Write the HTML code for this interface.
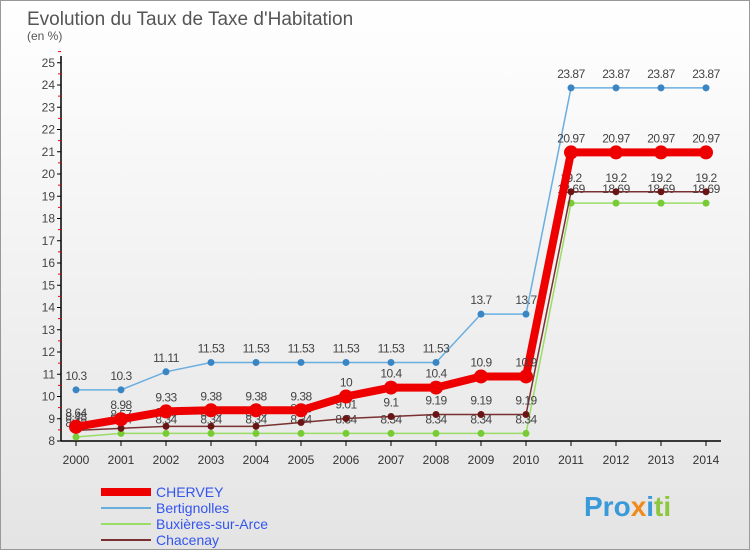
<!DOCTYPE html>
<html><head><meta charset="utf-8"><style>
body{margin:0;width:750px;height:550px;overflow:hidden;font-family:"Liberation Sans",sans-serif}
#wrap{position:relative;width:748px;height:548px;border:1px solid #999;background:linear-gradient(#fff,#e4e4e4)}
</style></head><body>
<div id="wrap">
<svg id="c" width="748" height="548" xmlns="http://www.w3.org/2000/svg">
<text x="26" y="24" font-size="19" fill="#555">Evolution du Taux de Taxe d'Habitation</text>
<text x="26" y="39" font-size="12" fill="#555">(en %)</text>
<g id="axes"></g><g id="series"></g><g id="legend"></g>
<text x="583" y="515" font-size="28" font-weight="bold" fill="#3a9ad9">Pro<tspan fill="#f08a1c">x</tspan><tspan fill="#3a9ad9">i</tspan><tspan fill="#8dc63f">ti</tspan></text>
</svg></div>
<script>
const years=[2000,2001,2002,2003,2004,2005,2006,2007,2008,2009,2010,2011,2012,2013,2014];
const yTicks=[8,9,10,11,12,13,14,15,16,17,18,19,20,21,22,23,24,25];
const chervey=[8.64,8.98,9.33,9.38,9.38,9.38,10,10.4,10.4,10.9,10.9,20.97,20.97,20.97,20.97];
const bertignolles=[10.3,10.3,11.11,11.53,11.53,11.53,11.53,11.53,11.53,13.7,13.7,23.87,23.87,23.87,23.87];
const buxieres=[8.18,8.34,8.34,8.34,8.34,8.34,8.34,8.34,8.34,8.34,8.34,18.69,18.69,18.69,18.69];
const chacenay=[8.48,8.57,8.66,8.66,8.66,8.83,9.01,9.1,9.19,9.19,9.19,19.2,19.2,19.2,19.2];
const NS="http://www.w3.org/2000/svg";
const X=i=>75+i*45, Y=v=>440-(v-8)*22.25;
function mk(t,a,p){const e=document.createElementNS(NS,t);for(const k in a)e.setAttribute(k,a[k]);p.appendChild(e);return e;}
const ax=document.getElementById('axes');
const yl=mk('line',{x1:60,y1:55,x2:60,y2:440,stroke:'#000','stroke-width':1.5},ax);


const xl=mk('line',{x1:60,y1:440,x2:720,y2:440,stroke:'#000','stroke-width':1.5},ax);


yTicks.forEach(v=>{
 mk('line',{x1:56,x2:60,y1:Y(v),y2:Y(v),stroke:'#000'},ax);
 mk('line',{x1:57,x2:60,y1:Y(v+0.5),y2:Y(v+0.5),stroke:'#e00'},ax);
 const t=mk('text',{x:54,y:Y(v)+4,'font-size':12,fill:'#444','text-anchor':'end'},ax);t.textContent=v;
 
 
});
years.forEach((yr,i)=>{
 mk('line',{x1:X(i),x2:X(i),y1:440,y2:445,stroke:'#000'},ax);
 const t=mk('text',{x:X(i),y:463,'font-size':12,fill:'#333','text-anchor':'middle'},ax);t.textContent=yr;
 
 
});
const sg=document.getElementById('series');
const S=[
 {d:bertignolles,c:'#6aaee0',dot:'#3a85c4',w:1.5,r:3.5,n:'bertignolles'},
 {d:buxieres,c:'#99dd66',dot:'#77cc33',w:1.5,r:3.5,n:'buxieres-sur-arce'},
 {d:chacenay,c:'#7a3030',dot:'#6a1515',w:1.5,r:3.5,n:'chacenay'},
 {d:chervey,c:'#ee0000',dot:'#ee0000',w:8,r:7,n:'chervey'}];
S.forEach(s=>{
 const g=mk('g',{},sg);
 
 
 mk('polyline',{points:s.d.map((v,i)=>X(i)+','+Y(v)).join(' '),fill:'none',stroke:s.c,'stroke-width':s.w},g);
 s.d.forEach((v,i)=>{
  const p=mk('circle',{cx:X(i),cy:Y(v),r:s.r,fill:s.dot},g);
  
  
  const t=mk('text',{x:X(i),y:Y(v)-10,'font-size':12,fill:'#444','text-anchor':'middle','letter-spacing':'-0.5'},g);t.textContent=v;
  
  
 });
});
const lg=document.getElementById('legend');
[['CHERVEY','#ee0000',8],['Bertignolles','#6aaee0',2],['Buxières-sur-Arce','#99dd66',2],['Chacenay','#7a3030',2]].forEach((l,i)=>{
 const y=491+i*16;
 const e=mk('line',{x1:100,x2:150,y1:y,y2:y,stroke:l[1],'stroke-width':l[2]},lg);
 
 
 const t=mk('text',{x:155,y:y+5,'font-size':14,fill:'#3355ee'},lg);t.textContent=l[0];
 
 
});
</script>
</body></html>
